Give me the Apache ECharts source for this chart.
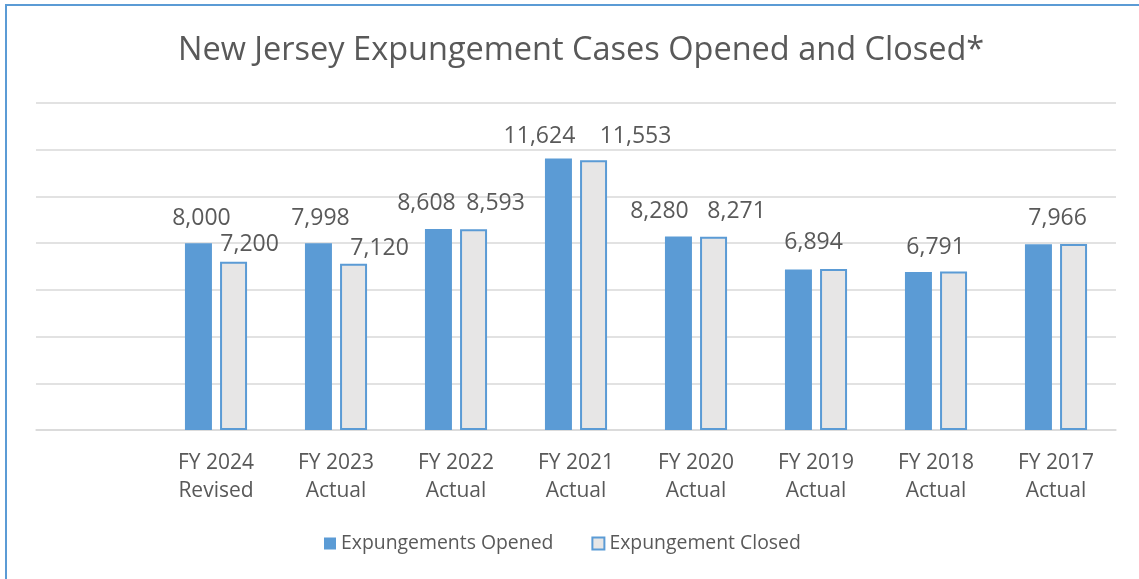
<!DOCTYPE html>
<html>
<head>
<meta charset="utf-8">
<script src="https://cdn.jsdelivr.net/npm/echarts@6/dist/echarts.min.js"></script>
<style>
  html, body { margin: 0; padding: 0; background: #fff; overflow: hidden; }
  #chart { width: 1139px; height: 579px; }
</style>
</head>
<body>
<div id="chart"></div>
<script>
// first slot is empty in the original chart
const categories = ['', 'FY 2024\nRevised', 'FY 2023\nActual', 'FY 2022\nActual', 'FY 2021\nActual',
  'FY 2020\nActual', 'FY 2019\nActual', 'FY 2018\nActual', 'FY 2017\nActual'];
const opened = [null, 8000, 7998, 8608, 11624, 8280, 6870, 6760, 7950];
const closed = [null, 7200, 7120, 8593, 11553, 8271, 6894, 6791, 7966];
const yTicks = [0, 2000, 4000, 6000, 8000, 10000, 12000, 14000];

// where the hand-placed data labels sit (null = no label)
const openedLabelOffset = [null, [3, -8], [2, -8], [-12, -9], [-19, -6], [-19, -9], null, null, null];
const closedLabelOffset = [null, [16, -1], [26, 1], [22, -9], [42, -7], [23, -9], [-20, -10], [-18, -7], [-16, -9]];

const font = 'Open Sans';
const textColor = '#595959';
const blue = '#5B9BD5';

const withLabels = (values, offsets) => values.map((v, i) => ({
  value: v,
  label: offsets[i] ? { show: true, offset: offsets[i] } : { show: false }
}));

const labelStyle = {
  position: 'top',
  distance: 5,
  fontFamily: font,
  fontSize: 23,
  lineHeight: 23,
  color: textColor,
  formatter: p => p.value.toLocaleString('en-US')
};

let myChart = echarts.init(document.getElementById('chart'));

let option = {
  animation: false,
  title: {
    text: 'New Jersey Expungement Cases Opened and Closed*',
    left: 173,
    top: 29,
    textStyle: { fontFamily: font, fontSize: 32.5, fontWeight: 'normal', color: textColor }
  },
  graphic: [{
    type: 'rect',
    shape: { x: 6, y: 5, width: 1300, height: 800 },
    style: { fill: 'none', stroke: blue, lineWidth: 2 },
    silent: true
  }],
  legend: {
    left: 319,
    top: 529,
    icon: 'rect',
    itemWidth: 12,
    itemHeight: 12,
    itemGap: 38,
    textStyle: { fontFamily: font, fontSize: 19.4, color: textColor }
  },
  grid: { left: 36, right: 23, top: 103, bottom: 149 },
  xAxis: {
    type: 'category',
    data: categories,
    axisLine: { lineStyle: { color: '#D9D9D9', width: 1.5 } },
    axisTick: { show: false },
    axisLabel: { fontFamily: font, fontSize: 21, lineHeight: 28, color: textColor, margin: 19, interval: 0 }
  },
  yAxis: {
    type: 'value',
    min: yTicks[0],
    max: yTicks[yTicks.length - 1],
    interval: 2000,
    axisLabel: { show: false },
    axisLine: { show: false },
    axisTick: { show: false },
    splitLine: { lineStyle: { color: '#D9D9D9', width: 1.5 } }
  },
  series: [
    {
      name: 'Expungements Opened',
      type: 'bar',
      barWidth: 27,
      barGap: '30%',
      data: withLabels(opened, openedLabelOffset),
      itemStyle: { color: blue },
      label: labelStyle
    },
    {
      name: 'Expungement Closed',
      type: 'bar',
      barWidth: 27,
      barGap: '30%',
      data: withLabels(closed, closedLabelOffset),
      itemStyle: { color: '#E7E6E6', borderColor: blue, borderWidth: 2 },
      label: labelStyle
    }
  ]
};

myChart.setOption(option);
</script>
</body>
</html>
